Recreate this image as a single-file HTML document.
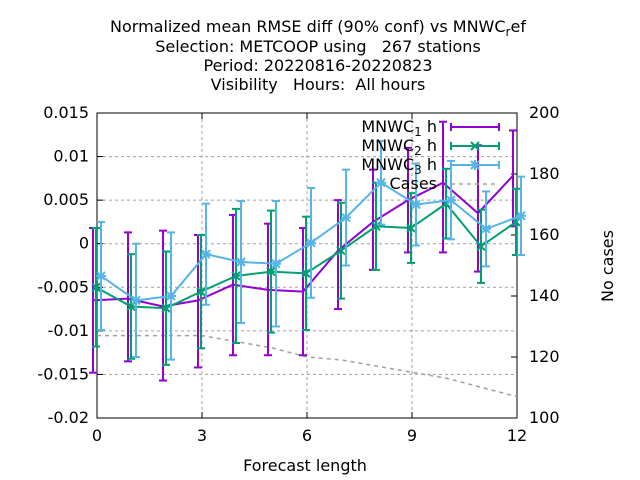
<!DOCTYPE html>
<html><head><meta charset="utf-8"><style>body{margin:0;background:#fff}svg{display:block;font-family:"DejaVu Sans","Liberation Sans",sans-serif}text{white-space:pre}</style></head>
<body>
<svg id="chart" width="640" height="480" viewBox="0 0 640 480" xmlns="http://www.w3.org/2000/svg" xml:space="preserve">
<g font-size="16" text-anchor="middle" fill="#000">
<text x="318" y="32">Normalized mean RMSE diff (90% conf) vs MNWC<tspan font-size="12" dy="4">r</tspan><tspan dy="-4">ef</tspan></text>
<text x="318" y="52">Selection: METCOOP using   267 stations</text>
<text x="318" y="71">Period: 20220816-20220823</text>
<text x="318" y="90">Visibility   Hours:  All hours</text>
</g>
<g id="grid"></g>
<g id="axes"></g>
<g id="series"></g>
<text x="305" y="471" font-size="16" text-anchor="middle">Forecast length</text>
<text transform="translate(613,266) rotate(-90)" font-size="16" text-anchor="middle">No cases</text>
<g id="legend"></g>
</svg>
<script>
const hours=[0,1,2,3,4,5,6,7,8,9,10,11,12];
const h1=[-0.0065,-0.0063,-0.0072,-0.0065,-0.0047,-0.0053,-0.0055,-0.0008,0.0025,0.005,0.007,0.0035,0.0078];
const h1lo=[-0.0148,-0.0135,-0.0157,-0.0142,-0.0128,-0.0128,-0.0128,-0.0075,-0.003,-0.001,-0.001,-0.0032,0.002];
const h1hi=[0.0018,0.0013,0.0015,0.001,0.0033,0.0023,0.0018,0.005,0.0085,0.011,0.014,0.0113,0.013];
const h2=[-0.005,-0.0072,-0.0074,-0.0055,-0.0037,-0.0032,-0.0034,-0.0008,0.002,0.0018,0.0046,-0.0003,0.0025];
const h2err=[0.0068,0.006,0.0065,0.0065,0.0077,0.007,0.0065,0.0055,0.005,0.004,0.004,0.0042,0.0038];
const h3=[-0.0037,-0.0065,-0.006,-0.0012,-0.0021,-0.0023,0.0001,0.003,0.007,0.0045,0.005,0.0017,0.0032];
const h3err=[0.0062,0.0065,0.0073,0.0058,0.007,0.0072,0.0063,0.0055,0.0048,0.0047,0.0045,0.0043,0.0045];
const cases=[127,127,127,127,125,123,120,119,117,115,113,110,107];
const yTicks=[0.015,0.01,0.005,0,-0.005,-0.01,-0.015,-0.02];
const yTickLabels=["0.015","0.01","0.005","0","-0.005","-0.01","-0.015","-0.02"];
const xTicks=[0,3,6,9,12];
const y2Ticks=[200,180,160,140,120,100];

const L=97,R=517,T=113,B=418,NS="http://www.w3.org/2000/svg";
const X=h=>L+(R-L)*h/12;
const Y=v=>T+(B-T)*(0.015-v)/0.035;
const Y2=c=>T+(B-T)*(200-c)/100;
function mk(p,tag,a){const e=document.createElementNS(NS,tag);for(const k in a)e.setAttribute(k,a[k]);p.appendChild(e);return e;}
const grid=document.getElementById('grid'),axes=document.getElementById('axes'),ser=document.getElementById('series'),leg=document.getElementById('legend');
yTicks.forEach((v,i)=>{const y=Y(v);
 if(i>0&&i<yTicks.length-1){const g=mk(grid,'line',{x1:L,x2:R,y1:y,y2:y,stroke:'#a0a0a0','stroke-dasharray':'3,3'});
 
 }
 mk(axes,'line',{x1:L,x2:L+6,y1:y,y2:y,stroke:'#000'});
 const t=mk(axes,'text',{x:L-8,y:y+5,'font-size':16,'text-anchor':'end'});t.textContent=yTickLabels[i];
 
 });
xTicks.forEach(h=>{const x=X(h);
 if(h>0&&h<12){const g=mk(grid,'line',{x1:x,x2:x,y1:T,y2:B,stroke:'#a0a0a0','stroke-dasharray':'3,3'});
 
 }
 mk(axes,'line',{x1:x,x2:x,y1:B,y2:B-6,stroke:'#000'});mk(axes,'line',{x1:x,x2:x,y1:T,y2:T+6,stroke:'#000'});
 const t=mk(axes,'text',{x:x,y:B+23,'font-size':16,'text-anchor':'middle'});t.textContent=h;
 
 });
y2Ticks.forEach(c=>{const y=Y2(c);mk(axes,'line',{x1:R,x2:R-6,y1:y,y2:y,stroke:'#000'});
 const t=mk(axes,'text',{x:R+12,y:y+5,'font-size':16});t.textContent=c;
 
 });
mk(axes,'rect',{x:L,y:T,width:R-L,height:B-T,fill:'none',stroke:'#000'});
const cp=mk(ser,'polyline',{points:hours.map((h,i)=>X(h)+','+Y2(cases[i])).join(' '),fill:'none',stroke:'#a0a0a0','stroke-width':1.5,'stroke-dasharray':'4,4'});


function star(g,x,y,c,type){
 if(type>=2){mk(g,'line',{x1:x-4,y1:y-4,x2:x+4,y2:y+4,stroke:c,'stroke-width':2});mk(g,'line',{x1:x-4,y1:y+4,x2:x+4,y2:y-4,stroke:c,'stroke-width':2});}
 if(type>=3){mk(g,'line',{x1:x-5,y1:y,x2:x+5,y2:y,stroke:c,'stroke-width':2});mk(g,'line',{x1:x,y1:y-5,x2:x,y2:y+5,stroke:c,'stroke-width':2});}
}
function series(name,vals,lo,hi,c,off,type){
 const g=mk(ser,'g',{});
 
 
 hours.forEach((h,i)=>{const x=X(h)+off;
  mk(g,'line',{x1:x,x2:x,y1:Y(lo[i]),y2:Y(hi[i]),stroke:c,'stroke-width':2});
  mk(g,'line',{x1:x-4,x2:x+4,y1:Y(lo[i]),y2:Y(lo[i]),stroke:c,'stroke-width':2});
  mk(g,'line',{x1:x-4,x2:x+4,y1:Y(hi[i]),y2:Y(hi[i]),stroke:c,'stroke-width':2});});
 mk(g,'polyline',{points:hours.map((h,i)=>(X(h)+off)+','+Y(vals[i])).join(' '),fill:'none',stroke:c,'stroke-width':2});
 hours.forEach((h,i)=>star(g,X(h)+off,Y(vals[i]),c,type));
}
series('series-mnwc1h',h1,h1lo,h1hi,'#9400d3',-4,1);
series('series-mnwc2h',h2,h2.map((v,i)=>v-h2err[i]),h2.map((v,i)=>v+h2err[i]),'#009e73',-1,2);
series('series-mnwc3h',h3,h3.map((v,i)=>v-h3err[i]),h3.map((v,i)=>v+h3err[i]),'#56b4e9',4,3);
const items=[['MNWC','1','#9400d3',1],['MNWC','2','#009e73',2],['MNWC','3','#56b4e9',3],['Cases','','#a0a0a0',0]];
items.forEach((it,i)=>{const y=127+i*19;const g=mk(leg,'g',{});
 
 
 const t=mk(g,'text',{x:437,y:y+5,'font-size':16,'text-anchor':'end'});
 if(it[1]){t.innerHTML=it[0]+'<tspan font-size="12" dy="4">'+it[1]+'</tspan><tspan dy="-4"> h</tspan>';}else t.textContent=it[0];
 if(it[3]){mk(g,'line',{x1:451,x2:499,y1:y,y2:y,stroke:it[2],'stroke-width':2});
  mk(g,'line',{x1:451,x2:451,y1:y-4,y2:y+4,stroke:it[2],'stroke-width':2});mk(g,'line',{x1:499,x2:499,y1:y-4,y2:y+4,stroke:it[2],'stroke-width':2});
  star(g,475,y,it[2],it[3]);}
 else mk(g,'line',{x1:451,x2:499,y1:y,y2:y,stroke:it[2],'stroke-width':1.5,'stroke-dasharray':'4,4'});
});
</script>
</body></html>
